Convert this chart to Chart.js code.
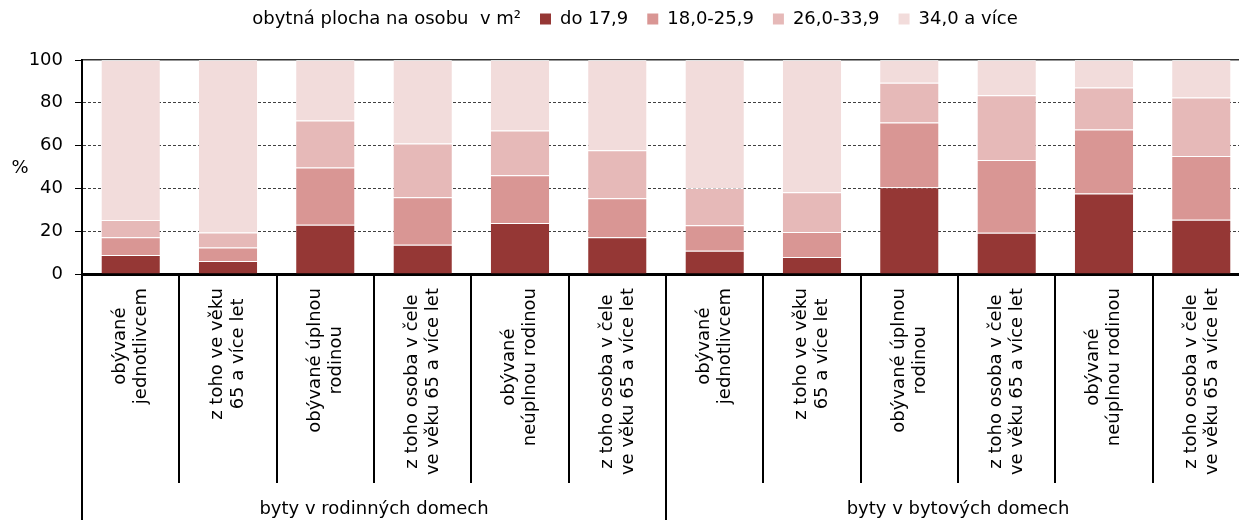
<!DOCTYPE html>
<html>
<head>
<meta charset="utf-8">
<script src="https://cdn.jsdelivr.net/npm/chart.js@4/dist/chart.umd.min.js"></script>
<style>
  html, body { margin: 0; padding: 0; background: #fff; overflow: hidden; }
  #wrap { width: 1250px; height: 520px; }
</style>
</head>
<body>
<div id="wrap"><canvas id="chart" width="1250" height="520"></canvas></div>
<script>
const categories = [
  ['obývané', 'jednotlivcem'],
  ['z toho ve věku', '65 a více let'],
  ['obývané úplnou', 'rodinou'],
  ['z toho osoba v čele', 've věku 65 a více let'],
  ['obývané', 'neúplnou rodinou'],
  ['z toho osoba v čele', 've věku 65 a více let'],
  ['obývané', 'jednotlivcem'],
  ['z toho ve věku', '65 a více let'],
  ['obývané úplnou', 'rodinou'],
  ['z toho osoba v čele', 've věku 65 a více let'],
  ['obývané', 'neúplnou rodinou'],
  ['z toho osoba v čele', 've věku 65 a více let']
]
const groups = ['byty v rodinných domech', 'byty v bytových domech']
const legendTitle = 'obytná plocha na osobu  v m²'
const seriesNames = ['do 17,9', '18,0-25,9', '26,0-33,9', '34,0 a více']
const upTo17 = [8.9, 6.1, 23.0, 13.7, 23.8, 17.2, 10.9, 7.9, 40.5, 19.3, 37.6, 25.3]
const from18 = [8.3, 6.3, 26.8, 22.2, 22.3, 18.2, 11.9, 11.7, 30.3, 34.0, 29.9, 29.8]
const from26 = [8.0, 7.0, 21.9, 25.1, 21.0, 22.4, 17.4, 18.6, 18.6, 30.2, 19.6, 27.4]
const from34 = [74.8, 80.6, 28.3, 39.0, 32.9, 42.2, 59.8, 61.8, 10.6, 16.5, 12.9, 17.5]
const yTicks = [0, 20, 40, 60, 80, 100]

const colors = ['#953735', '#D99694', '#E6B9B8', '#F2DCDB']
const FONT = 'DejaVu Sans'

// category labels (lines centred on each other), separators, group names, "%"
const extras = {
  id: 'extras',
  afterDraw(chart) {
    const ctx = chart.ctx
    const xs = chart.scales.x
    const half = (xs.getPixelForValue(1) - xs.getPixelForValue(0)) / 2
    ctx.save()
    ctx.fillStyle = '#000'
    ctx.font = `18px "${FONT}"`
    categories.forEach((lines, i) => {
      const cx = xs.getPixelForValue(i)
      const w = Math.max(...lines.map(l => ctx.measureText(l).width))
      const cy = xs.top + 14 + w / 2
      lines.forEach((line, k) => {
        ctx.save()
        ctx.translate(cx + (k - (lines.length - 1) / 2) * 21, cy)
        ctx.rotate(-Math.PI / 2)
        ctx.textAlign = 'center'
        ctx.textBaseline = 'middle'
        ctx.fillText(line, 0, 0)
        ctx.restore()
      })
    })

    ctx.strokeStyle = '#000'
    ctx.lineWidth = 2
    for (let i = 0; i <= categories.length; i++) {
      const x = i < categories.length ? xs.getPixelForValue(i) - half : xs.getPixelForValue(i - 1) + half
      const bottom = i % 6 === 0 ? 520 : 483
      ctx.beginPath()
      ctx.moveTo(Math.round(x), xs.top)
      ctx.lineTo(Math.round(x), bottom)
      ctx.stroke()
    }

    ctx.textAlign = 'center'
    ctx.textBaseline = 'middle'
    groups.forEach((g, k) => {
      const x = (xs.getPixelForValue(k * 6) + xs.getPixelForValue(k * 6 + 5)) / 2
      ctx.fillText(g, x, 509)
    })
    ctx.fillText('%', 20, 168)
    ctx.restore()
  }
}

new Chart(document.getElementById('chart'), {
  type: 'bar',
  data: {
    labels: categories.map(c => c.join(' ')),
    datasets: [upTo17, from18, from26, from34].map((d, i) => ({
      label: seriesNames[i],
      data: d,
      backgroundColor: colors[i],
      borderColor: 'rgba(255,255,255,0.7)',
      borderWidth: { top: 1, left: 0, right: 0, bottom: 0 },
      borderSkipped: false,
      categoryPercentage: 1,
      barPercentage: 0.6
    }))
  },
  options: {
    responsive: false,
    animation: false,
    devicePixelRatio: 1,
    layout: { padding: { top: -9, left: 0, right: 0, bottom: 0 } },
    plugins: {
      tooltip: { enabled: false },
      legend: {
        position: 'top',
        onClick: null,
        labels: {
          color: '#000',
          font: { family: FONT, size: 18 },
          boxWidth: 11,
          boxHeight: 11,
          padding: 19,
          generateLabels: chart => [{
            text: legendTitle, fillStyle: 'rgba(0,0,0,0)', strokeStyle: 'rgba(0,0,0,0)',
            lineWidth: 0, hidden: false, datasetIndex: -1, fontColor: '#000'
          }].concat(chart.data.datasets.map((d, i) => ({
            text: d.label, fillStyle: d.backgroundColor, strokeStyle: d.backgroundColor,
            lineWidth: 0, hidden: false, datasetIndex: i, fontColor: '#000'
          })))
        }
      }
    },
    scales: {
      x: {
        stacked: true,
        grid: { display: false, drawTicks: false },
        border: { color: '#000', width: 3 },
        ticks: { display: false },
        afterFit: scale => { scale.height = 246 }
      },
      x2: {
        position: 'top',
        grid: { display: false, drawTicks: false },
        ticks: { display: false },
        border: { color: '#303030', width: 1.5 },
        afterFit: scale => { scale.height = 22 }
      },
      y: {
        stacked: true,
        min: 0,
        max: 100,
        afterBuildTicks: scale => { scale.ticks = yTicks.map(v => ({ value: v })) },
        grid: {
          color: c => (c.tick && (c.tick.value === 0 || c.tick.value === 100)) ? 'rgba(0,0,0,0)' : '#404040',
          lineWidth: 1,
          tickColor: '#000',
          tickLength: 7
        },
        border: { color: '#000', width: 2, dash: [3, 2] },
        ticks: {
          color: '#000',
          font: { family: FONT, size: 18 },
          padding: 12
        },
        afterFit: scale => { scale.width = 82 }
      }
    }
  },
  plugins: [extras]
})
</script>
</body>
</html>
